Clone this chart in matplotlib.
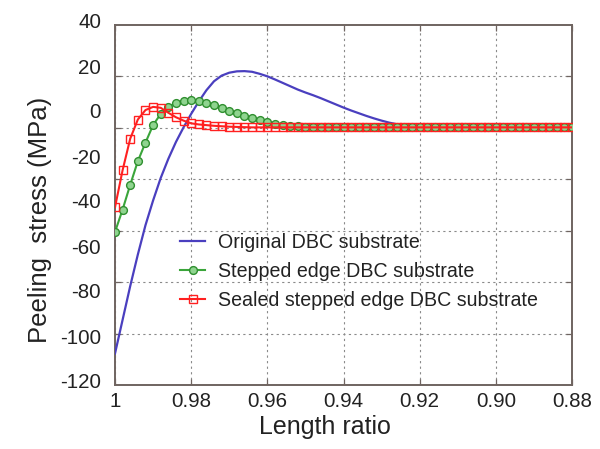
import matplotlib
matplotlib.use("Agg")
import matplotlib.pyplot as plt
import matplotlib.transforms as mtransforms
import numpy as np

plt.rcParams["font.family"] = ["Liberation Sans", "DejaVu Sans"]

# Length ratio samples (x axis runs from 1 down to 0.88)
length_ratio = [
    1.000, 0.998, 0.996, 0.994, 0.992, 0.990, 0.988, 0.986, 0.984, 0.982,
    0.980, 0.978, 0.976, 0.974, 0.972, 0.970, 0.968, 0.966, 0.964, 0.962,
    0.960, 0.958, 0.956, 0.954, 0.952, 0.950, 0.948, 0.946, 0.944, 0.942,
    0.940, 0.938, 0.936, 0.934, 0.932, 0.930, 0.928, 0.926, 0.924, 0.922,
    0.920, 0.918, 0.916, 0.914, 0.912, 0.910, 0.908, 0.906, 0.904, 0.902,
    0.900, 0.898, 0.896, 0.894, 0.892, 0.890, 0.888, 0.886, 0.884, 0.882,
    0.880,
]

# Peeling stress (MPa)
original_dbc = [
    -106.0, -91.0, -76.0, -62.0, -49.0, -38.0, -28.0, -19.5, -12.0, -5.5,
    0.5, 6.0, 11.0, 15.0, 17.5, 18.8, 19.4, 19.5, 19.2, 18.3,
    17.2, 15.8, 14.3, 12.8, 11.3, 10.0, 8.8, 7.5, 6.1, 4.7,
    3.3, 2.0, 0.8, -0.4, -1.5, -2.5, -3.4, -4.1, -4.7, -5.1,
    -5.4, -5.5, -5.5, -5.5, -5.5, -5.5, -5.5, -5.5, -5.5, -5.5,
    -5.5, -5.5, -5.5, -5.5, -5.5, -5.5, -5.5, -5.5, -5.5, -5.5,
    -5.5,
]
stepped_dbc = [
    -52.0, -42.0, -31.0, -20.5, -12.3, -4.5, 0.5, 3.7, 5.3, 6.3,
    6.6, 6.3, 5.4, 4.3, 3.0, 1.8, 0.7, -0.4, -1.4, -2.3,
    -3.1, -3.8, -4.4, -4.8, -5.1, -5.3, -5.4, -5.5, -5.5, -5.5,
    -5.5, -5.5, -5.5, -5.5, -5.5, -5.5, -5.5, -5.5, -5.5, -5.5,
    -5.5, -5.5, -5.5, -5.5, -5.5, -5.5, -5.5, -5.5, -5.5, -5.5,
    -5.5, -5.5, -5.5, -5.5, -5.5, -5.5, -5.5, -5.5, -5.5, -5.5,
    -5.5,
]
sealed_stepped_dbc = [
    -41.0, -24.5, -10.5, -2.0, 2.2, 3.6, 3.2, 1.0, -1.0, -2.5,
    -3.7, -4.2, -4.5, -4.8, -5.0, -5.2, -5.3, -5.4, -5.5, -5.5,
    -5.5, -5.5, -5.5, -5.5, -5.5, -5.5, -5.5, -5.5, -5.5, -5.5,
    -5.5, -5.5, -5.5, -5.5, -5.5, -5.5, -5.5, -5.5, -5.5, -5.5,
    -5.5, -5.5, -5.5, -5.5, -5.5, -5.5, -5.5, -5.5, -5.5, -5.5,
    -5.5, -5.5, -5.5, -5.5, -5.5, -5.5, -5.5, -5.5, -5.5, -5.5,
    -5.5,
]

series_labels = [
    "Original DBC substrate",
    "Stepped edge DBC substrate",
    "Sealed stepped edge DBC substrate",
]

x_ticks = [1.00, 0.98, 0.96, 0.94, 0.92, 0.90, 0.88]
x_tick_labels = ["1", "0.98", "0.96", "0.94", "0.92", "0.90", "0.88"]
y_ticks = [40, 20, 0, -20, -40, -60, -80, -100, -120]

frame_color = "#6f6460"
grid_color = "#8a8a8a"
text_color = "#222222"

fig = plt.figure(figsize=(6.0, 4.49), dpi=100)
ax = fig.add_axes([115 / 600, 1 - 385 / 449, 457 / 600, 360 / 449])

ax.plot(length_ratio, original_dbc, color="#4a3fbf", lw=1.6,
        label=series_labels[0], zorder=3)
ax.plot(length_ratio, stepped_dbc, color="#3aa53a", lw=1.5, marker="o",
        ms=5.6, mfc="#8fd48f", mec="#2f8f2f", mew=1.0,
        label=series_labels[1], zorder=4)
ax.plot(length_ratio, sealed_stepped_dbc, color="#ff2020", lw=1.5,
        marker="s", ms=5.6, mfc="none", mec="#ff2020", mew=1.0,
        label=series_labels[2], zorder=5)

ax.set_xlim(1.0, 0.88)
ax.set_ylim(-120, 40)

ax.set_xticks(x_ticks)
ax.set_xticklabels(x_tick_labels)
ax.set_yticks(y_ticks)
ax.set_yticklabels([str(v) for v in y_ticks])

# Horizontal grid lines sit on their own (minor) positions
ax.set_yticks(np.linspace(40, -120, 8), minor=True)
ax.tick_params(axis="y", which="major", length=0, pad=10, labelsize=14.8,
               labelcolor=text_color)
ax.tick_params(axis="y", which="minor", direction="in", length=4,
               width=0.9, color=frame_color, left=True, right=True)
ax.tick_params(axis="x", which="major", direction="in", length=4,
               width=0.9, color=frame_color, pad=5, labelsize=14.8,
               labelcolor=text_color, top=True, bottom=True)
ax.tick_params(axis="x", which="minor", bottom=False, top=False)

# y labels sit a little above their nominal positions
lift = mtransforms.ScaledTranslation(0, 0.04, fig.dpi_scale_trans)
for lab in ax.get_yticklabels():
    lab.set_transform(lab.get_transform() + lift)

ax.grid(False)
ax.grid(True, axis="x", which="major", color=grid_color, lw=0.8,
        linestyle=(0, (2, 3)))
ax.grid(True, axis="y", which="minor", color=grid_color, lw=0.8,
        linestyle=(0, (2, 3)))

for sp in ax.spines.values():
    sp.set_color(frame_color)
    sp.set_linewidth(1.4)

ax.set_xlabel("Length ratio", fontsize=18, color=text_color)
ax.xaxis.set_label_coords(0.46, -0.082)
ax.set_ylabel("Peeling  stress (MPa)", fontsize=18.5, color=text_color)
ax.yaxis.set_label_coords(-0.138, 0.458)

leg = ax.legend(loc="upper left", bbox_to_anchor=(180 / 600, 1 - 233 / 449),
                bbox_transform=fig.transFigure, frameon=False, fontsize=14.1,
                handlelength=1.3, handletextpad=0.65, labelspacing=0.5,
                borderaxespad=0, borderpad=0)
for t in leg.get_texts():
    t.set_color(text_color)

fig.savefig("out.png", dpi=100)
